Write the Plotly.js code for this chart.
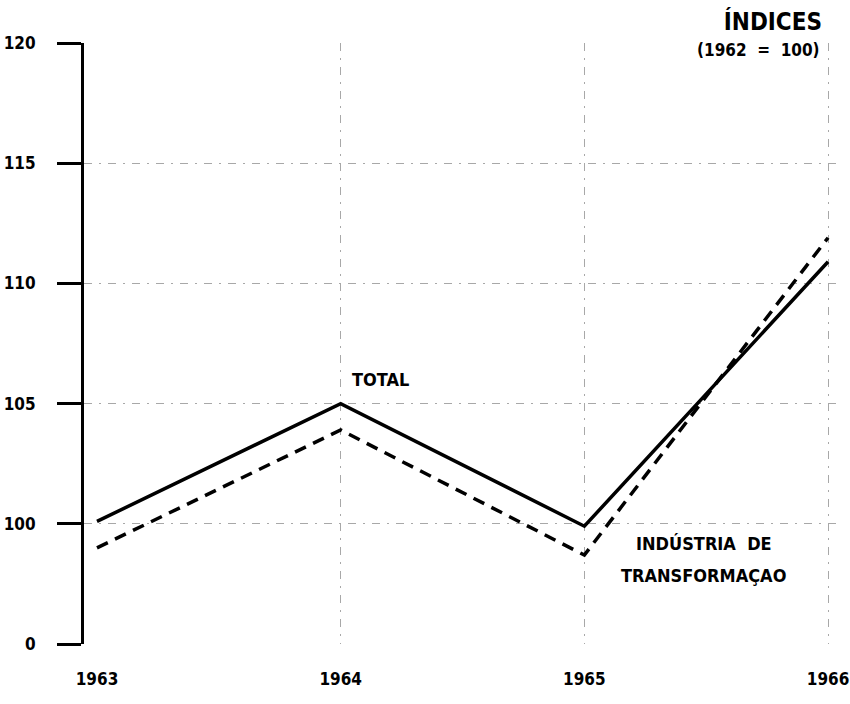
<!DOCTYPE html>
<html>
<head>
<meta charset="utf-8">
<script src="https://cdn.plot.ly/plotly-3.0.1.min.js"></script>
<style>html,body{margin:0;padding:0;background:#fff;}#chart{width:850px;height:704px;}</style>
</head>
<body>
<div id="chart"></div>
<script>
// Data (index, 1962 = 100). The "0" tick is drawn at 95 to reproduce the axis break.
const years = [1963, 1964, 1965, 1966];
const yearLabels = ['1963', '1964', '1965', '1966'];
const total = [100.1, 105.0, 99.9, 110.9];
const industria = [99.0, 103.9, 98.7, 111.9];
const yTickVals = [95, 100, 105, 110, 115, 120];
const yTickText = ['0', '100', '105', '110', '115', '120'];
const yGridVals = [100, 105, 110, 115];
const xGridVals = [1964, 1965, 1966];

const NARROW = '"DejaVu Sans Condensed", "Liberation Sans Narrow", "Arial Narrow", sans-serif';

const traces = [
  {x: years, y: total, type: 'scatter', mode: 'lines', name: 'TOTAL',
   line: {color: '#000', width: 3.5}},
  {x: years, y: industria, type: 'scatter', mode: 'lines', name: 'INDÚSTRIA DE TRANSFORMAÇAO',
   line: {color: '#000', width: 3.5, dash: '12px,8px'}}
];

const layout = {
  width: 850, height: 704,
  margin: {l: 84, r: 10, t: 43, b: 60},
  paper_bgcolor: '#fff', plot_bgcolor: '#fff',
  showlegend: false,
  title: {text: '<b>ÍNDICES</b>', x: 822/850, xref: 'container', xanchor: 'right',
          y: 1 - 22/704, yref: 'container', yanchor: 'middle',
          font: {family: NARROW, size: 24, color: '#000'}},
  xaxis: {
    range: [1962.9467, 1966.049],
    tickvals: years, ticktext: yearLabels.map(t => '<b>' + t + '</b>'),
    showgrid: false, zeroline: false, showline: false, ticks: '',
    ticklabelstandoff: 23, ticklabeloverflow: 'allow',
    tickfont: {family: NARROW, size: 17, color: '#000'},
    minor: {tickvals: xGridVals, showgrid: true, gridcolor: '#a8a8a8', gridwidth: 1, griddash: '8px,7px,2px,7px', ticks: ''}
  },
  yaxis: {
    range: [95, 120],
    tickvals: yTickVals, ticktext: yTickText.map(t => '<b>' + t + '</b>'),
    showgrid: false, zeroline: false,
    showline: true, linecolor: '#000', linewidth: 3,
    ticks: 'outside', ticklen: 24, tickwidth: 3, tickcolor: '#000',
    ticklabelstandoff: 18,
    tickfont: {family: NARROW, size: 17, color: '#000'},
    minor: {tickvals: yGridVals, showgrid: true, gridcolor: '#a8a8a8', gridwidth: 1, griddash: '8px,7px,2px,7px', ticks: ''}
  },
  annotations: [
    {text: '<b>(1962  =  100)</b>', xref: 'paper', yref: 'paper', x: 0.976, y: 0.988,
     xanchor: 'right', yanchor: 'middle', showarrow: false,
     font: {family: NARROW, size: 17, color: '#000'}},
    {text: '<b>TOTAL</b>', xref: 'x', yref: 'y', x: 1964.165, y: 106.0,
     xanchor: 'center', yanchor: 'middle', showarrow: false,
     font: {family: NARROW, size: 18, color: '#000'}},
    {text: '<b>INDÚSTRIA  DE</b>', xref: 'x', yref: 'y', x: 1965.49, y: 99.2,
     xanchor: 'center', yanchor: 'middle', showarrow: false,
     font: {family: NARROW, size: 18, color: '#000'}},
    {text: '<b>TRANSFORMAÇAO</b>', xref: 'x', yref: 'y', x: 1965.49, y: 97.83,
     xanchor: 'center', yanchor: 'middle', showarrow: false,
     font: {family: NARROW, size: 18, color: '#000'}}
  ]
};

Plotly.newPlot('chart', traces, layout, {displayModeBar: false, staticPlot: true});
</script>
</body>
</html>
